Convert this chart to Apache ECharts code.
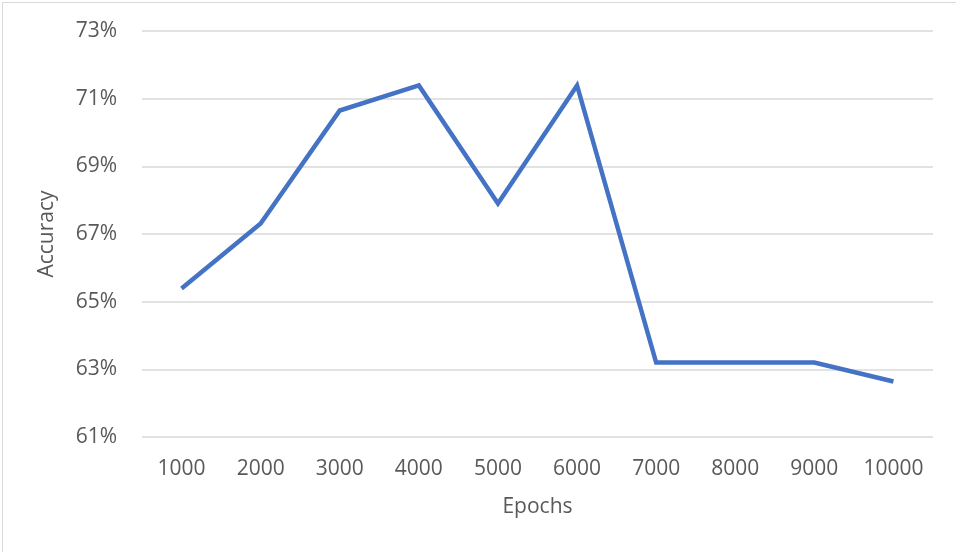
<!DOCTYPE html>
<html>
<head>
<meta charset="utf-8">
<script src="https://cdn.jsdelivr.net/npm/echarts@6/dist/echarts.min.js"></script>
<style>
  html, body { margin: 0; padding: 0; background: #fff; overflow: hidden; }
  #chart { position: absolute; left: 2px; top: 2px; width: 953px; height: 549px;
    border-left: 1px solid #d9d9d9; border-top: 1px solid #d9d9d9; }
</style>
</head>
<body>
<div id="chart"></div>
<script>
const epochs = ['1000', '2000', '3000', '4000', '5000', '6000', '7000', '8000', '9000', '10000'];
const accuracy = [65.39, 67.31, 70.65, 71.39, 67.9, 71.39, 63.2, 63.2, 63.2, 62.64];
const yMin = 61, yMax = 73, yStep = 2;

let myChart = echarts.init(document.getElementById('chart'));
myChart.setOption({
  animation: false,
  grid: {
    left: 139,
    right: 23,
    top: 28,
    bottom: 115
  },
  xAxis: {
    type: 'category',
    data: epochs,
    name: 'Epochs',
    nameLocation: 'middle',
    nameGap: 60,
    nameTextStyle: { color: '#595959', fontSize: 21, fontFamily: 'Open Sans' },
    axisLine: { show: false },
    axisTick: { show: false },
    axisLabel: { color: '#595959', fontSize: 21, fontFamily: 'Open Sans', margin: 22 }
  },
  yAxis: {
    type: 'value',
    min: yMin,
    max: yMax,
    interval: yStep,
    name: 'Accuracy',
    nameLocation: 'middle',
    nameGap: 84,
    nameTextStyle: { color: '#595959', fontSize: 21, fontFamily: 'Open Sans' },
    axisLine: { show: false },
    axisTick: { show: false },
    axisLabel: {
      color: '#595959',
      fontSize: 21,
      fontFamily: 'Open Sans',
      margin: 25,
      formatter: '{value}%'
    },
    splitLine: { lineStyle: { color: '#d9d9d9', width: 1.5 } }
  },
  series: [{
    type: 'line',
    data: accuracy,
    showSymbol: false,
    lineStyle: { color: '#4472C4', width: 4.5, join: 'miter' },
    itemStyle: { color: '#4472C4' }
  }]
});
window.onresize = myChart.resize;
</script>
</body>
</html>
